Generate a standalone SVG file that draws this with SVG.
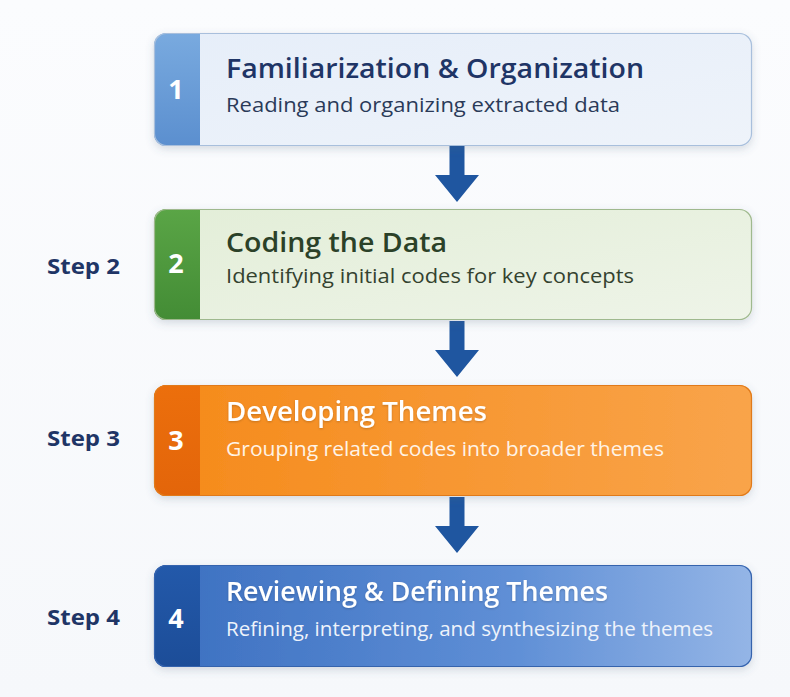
<svg xmlns="http://www.w3.org/2000/svg" width="790" height="697" viewBox="0 0 790 697">
  <defs>
    <linearGradient id="bg" x1="0" y1="0" x2="0" y2="1">
      <stop offset="0" stop-color="#fbfcfe"/>
      <stop offset="1" stop-color="#f6f8fb"/>
    </linearGradient>
    <linearGradient id="g1" x1="0" y1="0" x2="1" y2="1">
      <stop offset="0" stop-color="#e6eef9"/>
      <stop offset="1" stop-color="#eef3fa"/>
    </linearGradient>
    <linearGradient id="s1" x1="0" y1="0" x2="0" y2="1">
      <stop offset="0" stop-color="#79aadf"/>
      <stop offset="1" stop-color="#5b8fcf"/>
    </linearGradient>
    <linearGradient id="g2" x1="0" y1="0" x2="1" y2="1">
      <stop offset="0" stop-color="#e3eed8"/>
      <stop offset="1" stop-color="#eef4e8"/>
    </linearGradient>
    <linearGradient id="s2" x1="0" y1="0" x2="0" y2="1">
      <stop offset="0" stop-color="#5aa546"/>
      <stop offset="1" stop-color="#438c35"/>
    </linearGradient>
    <linearGradient id="g3" x1="0" y1="0" x2="1" y2="0">
      <stop offset="0" stop-color="#f58a1a"/>
      <stop offset="1" stop-color="#f9a44a"/>
    </linearGradient>
    <linearGradient id="s3" x1="0" y1="0" x2="0" y2="1">
      <stop offset="0" stop-color="#ec6f0c"/>
      <stop offset="1" stop-color="#e3650a"/>
    </linearGradient>
    <linearGradient id="g4" x1="0" y1="0" x2="1" y2="0">
      <stop offset="0" stop-color="#3b6fc0"/>
      <stop offset="0.6" stop-color="#5f8fd6"/>
      <stop offset="1" stop-color="#94b5e6"/>
    </linearGradient>
    <linearGradient id="s4" x1="0" y1="0" x2="0" y2="1">
      <stop offset="0" stop-color="#2359aa"/>
      <stop offset="1" stop-color="#1c4d98"/>
    </linearGradient>
    <filter id="shadow" x="-5%" y="-10%" width="110%" height="130%">
      <feDropShadow dx="0" dy="3" stdDeviation="4" flood-color="#50607a" flood-opacity="0.22"/>
    </filter>
    <filter id="tshadow" x="-5%" y="-20%" width="110%" height="150%">
      <feDropShadow dx="0" dy="1" stdDeviation="1" flood-color="#000" flood-opacity="0.2"/>
    </filter>
    <clipPath id="c1"><rect x="154" y="33" width="598" height="113" rx="12"/></clipPath>
    <clipPath id="c2"><rect x="154" y="209" width="598" height="111" rx="12"/></clipPath>
    <clipPath id="c3"><rect x="154" y="385" width="598" height="111" rx="12"/></clipPath>
    <clipPath id="c4"><rect x="154" y="565" width="598" height="102" rx="12"/></clipPath>
    <path id="arrow" d="M-7.5,0 H7.5 V29 H22 L0,56 L-22,29 H-7.5 Z"/>
  </defs>
  <style>
    .title { font-family: "Open Sans", "Noto Sans", sans-serif; font-weight: 600; font-size: 27px; }
    .sub { font-family: "Open Sans", "Noto Sans", sans-serif; font-size: 20px; }
    .num { font-family: "Open Sans", "Noto Sans", sans-serif; font-weight: 700; font-size: 27px; fill: #ffffff; text-anchor: middle; }
    .step { font-family: "Open Sans", "Noto Sans", sans-serif; font-weight: 700; font-size: 21px; fill: #1f3566; }
    .arrow { fill: #1f56a0; }
  </style>

  <rect width="790" height="697" fill="url(#bg)"/>

  <!-- connectors between the stages -->
  <g id="connectors">
    <use href="#arrow" class="arrow" x="457" y="146"/>
    <use href="#arrow" class="arrow" x="457" y="321"/>
    <use href="#arrow" class="arrow" x="457" y="497"/>
  </g>

  <!-- stage 1 -->
  <g id="stage1">
    <rect x="154" y="33" width="598" height="113" rx="12" fill="url(#g1)" filter="url(#shadow)"/>
    <rect x="154" y="33" width="46" height="113" fill="url(#s1)" clip-path="url(#c1)"/>
    <rect x="154.5" y="33.5" width="597" height="112" rx="12" fill="none" stroke="#a8bfdc" stroke-width="1.2"/>
    <text class="num" x="176" y="99">1</text>
    <text class="title" x="226" y="78" fill="#1f3566" textLength="418" lengthAdjust="spacingAndGlyphs">Familiarization &amp; Organization</text>
    <text class="sub" x="226" y="112" fill="#2a3a58" textLength="394" lengthAdjust="spacingAndGlyphs">Reading and organizing extracted data</text>
  </g>

  <!-- stage 2 -->
  <g id="stage2">
    <text class="step" x="47" y="274" textLength="73" lengthAdjust="spacingAndGlyphs">Step 2</text>
    <rect x="154" y="209" width="598" height="111" rx="12" fill="url(#g2)" filter="url(#shadow)"/>
    <rect x="154" y="209" width="46" height="111" fill="url(#s2)" clip-path="url(#c2)"/>
    <rect x="154.5" y="209.5" width="597" height="110" rx="12" fill="none" stroke="#9fb98e" stroke-width="1.2"/>
    <text class="num" x="176" y="273">2</text>
    <text class="title" x="226" y="252" fill="#2b4128" textLength="221" lengthAdjust="spacingAndGlyphs">Coding the Data</text>
    <text class="sub" x="226" y="283" fill="#34422f" textLength="408" lengthAdjust="spacingAndGlyphs">Identifying initial codes for key concepts</text>
  </g>

  <!-- stage 3 -->
  <g id="stage3">
    <text class="step" x="47" y="446" textLength="73" lengthAdjust="spacingAndGlyphs">Step 3</text>
    <rect x="154" y="385" width="598" height="111" rx="12" fill="url(#g3)" filter="url(#shadow)"/>
    <rect x="154" y="385" width="46" height="111" fill="url(#s3)" clip-path="url(#c3)"/>
    <rect x="154.5" y="385.5" width="597" height="110" rx="12" fill="none" stroke="#e07a1a" stroke-width="1.2"/>
    <text class="num" x="176" y="450">3</text>
    <text class="title" x="226" y="421" fill="#ffffff" filter="url(#tshadow)" textLength="261" lengthAdjust="spacingAndGlyphs">Developing Themes</text>
    <text class="sub" x="226" y="456" fill="#fff3e6" textLength="438" lengthAdjust="spacingAndGlyphs">Grouping related codes into broader themes</text>
  </g>

  <!-- stage 4 -->
  <g id="stage4">
    <text class="step" x="47" y="625" textLength="73" lengthAdjust="spacingAndGlyphs">Step 4</text>
    <rect x="154" y="565" width="598" height="102" rx="12" fill="url(#g4)" filter="url(#shadow)"/>
    <rect x="154" y="565" width="46" height="102" fill="url(#s4)" clip-path="url(#c4)"/>
    <rect x="154.5" y="565.5" width="597" height="101" rx="12" fill="none" stroke="#3563ad" stroke-width="1.2"/>
    <text class="num" x="176" y="628">4</text>
    <text class="title" x="226" y="601" fill="#ffffff" filter="url(#tshadow)" textLength="382" lengthAdjust="spacingAndGlyphs">Reviewing &amp; Defining Themes</text>
    <text class="sub" x="226" y="636" fill="#eef3fb" textLength="487" lengthAdjust="spacingAndGlyphs">Refining, interpreting, and synthesizing the themes</text>
  </g>
</svg>
